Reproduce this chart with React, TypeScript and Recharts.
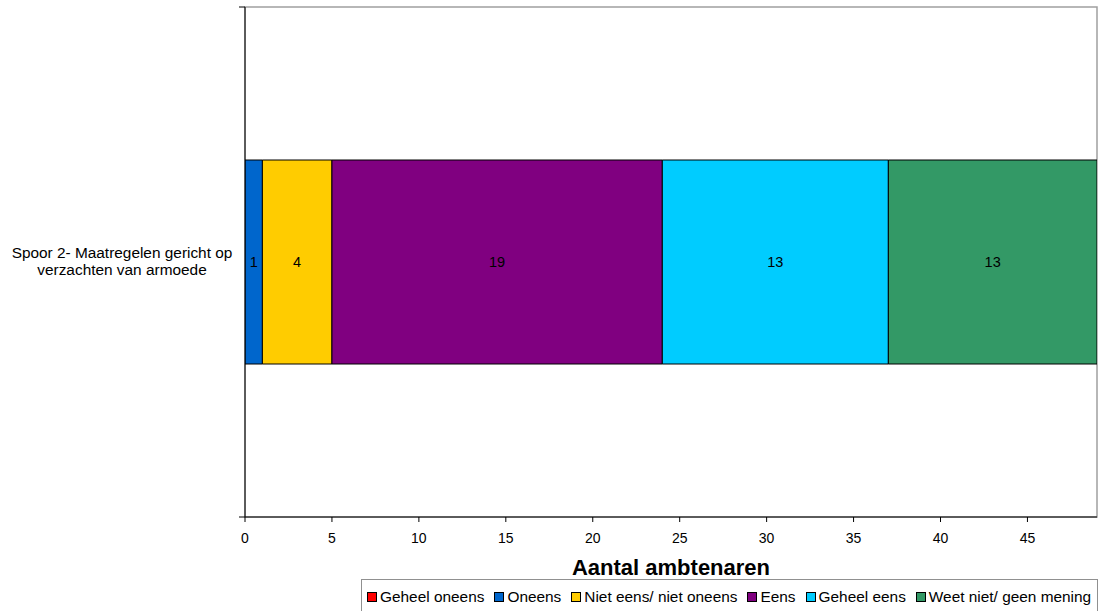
import React from "react";
import {
  Bar,
  BarChart,
  LabelList,
  Legend,
  ReferenceArea,
  XAxis,
  YAxis,
} from "recharts";

const categories = ["Spoor 2- Maatregelen gericht op verzachten van armoede"];
const categoryLines = [["Spoor 2- Maatregelen gericht op", "verzachten van armoede"]];

const seriesNames = [
  "Geheel oneens",
  "Oneens",
  "Niet eens/ niet oneens",
  "Eens",
  "Geheel eens",
  "Weet niet/ geen mening",
];
const seriesColors = ["#FF0000", "#0066CC", "#FFCC00", "#800080", "#00CCFF", "#339966"];

const geheelOneens = [0];
const oneens = [1];
const nietEensNietOneens = [4];
const eens = [19];
const geheelEens = [13];
const weetNiet = [13];

const xTicks = [0, 5, 10, 15, 20, 25, 30, 35, 40, 45];

const seriesValues = [geheelOneens, oneens, nietEensNietOneens, eens, geheelEens, weetNiet];

const data = categories.map((name, i) => {
  const row: Record<string, string | number> = { name };
  seriesNames.forEach((s, k) => {
    row[s] = seriesValues[k][i];
  });
  return row;
});

const FONT = '"Liberation Sans", Arial, sans-serif';

function CategoryTick(props: any) {
  const { y, payload, index } = props;
  const lines = categoryLines[index] ?? [String(payload.value)];
  const off = payload?.offset ?? 0;
  return (
    <g>
      {off > 0 && (
        <>
          <line x1={239} x2={245} y1={y - off} y2={y - off} stroke="#000" />
          <line x1={239} x2={245} y1={y + off} y2={y + off} stroke="#000" />
        </>
      )}
      <text
        x={122}
        y={y - 4}
        textAnchor="middle"
        fontSize={15.4}
        fontFamily={FONT}
        fill="#000"
      >
        {lines.map((l, i) => (
          <tspan key={i} x={122} dy={i === 0 ? 0 : 17}>
            {l}
          </tspan>
        ))}
      </text>
    </g>
  );
}

function BoxLegend() {
  return (
    <div
      style={{
        border: "1px solid #909090",
        boxSizing: "border-box",
        width: 737,
        height: 60,
        padding: "8px 0 0 5px",
        display: "flex",
        gap: 10,
        fontFamily: FONT,
        fontSize: 15.4,
        color: "#000",
        whiteSpace: "nowrap",
      }}
    >
      {seriesNames.map((s, i) => (
        <div key={s} style={{ display: "flex", alignItems: "center", gap: 3, height: 17 }}>
          <span
            style={{
              display: "inline-block",
              width: 8,
              height: 8,
              border: "1px solid #000",
              background: seriesColors[i],
            }}
          />
          <span>{s}</span>
        </div>
      ))}
    </div>
  );
}

export default function App() {
  return (
    <div
      style={{
        position: "absolute",
        left: 0,
        top: 0,
        width: 1101,
        height: 611,
        overflow: "hidden",
        background: "#fff",
      }}
    >
      <BarChart
        width={1101}
        height={640}
        data={data}
        layout="vertical"
        margin={{ top: 7, right: 4, bottom: 63, left: 1 }}
        barCategoryGap="30%"
      >
        <ReferenceArea x1={0} x2={49} fill="none" stroke="#a0a0a0" strokeWidth={1.5} />
        <XAxis
          type="number"
          domain={[0, 49]}
          allowDataOverflow
          ticks={xTicks}
          tickSize={5}
          tickMargin={11}
          stroke="#000"
          tick={{ fill: "#000", fontSize: 14, fontFamily: FONT }}
          height={60}
          label={{
            value: "Aantal ambtenaren",
            position: "insideBottom",
            offset: 2,
            fill: "#000",
            fontSize: 22,
            fontWeight: "bold",
            fontFamily: FONT,
          }}
        />
        <YAxis
          type="category"
          dataKey="name"
          width={244}
          stroke="#000"
          tickLine={false}
          tick={<CategoryTick />}
        />
        <Legend
          layout="vertical"
          align="center"
          verticalAlign="middle"
          content={<BoxLegend />}
          wrapperStyle={{ left: 361, top: 579, width: 737 }}
        />
        {seriesNames.map((s, i) => (
          <Bar
            key={s}
            dataKey={s}
            stackId="a"
            fill={seriesColors[i]}
            stroke="#000"
            strokeWidth={1}
            isAnimationActive={false}
          >
            <LabelList
              dataKey={s}
              position="center"
              fill="#000"
              fontSize={14.5}
              fontFamily={FONT}
              formatter={(v: any) => (v ? v : "")}
            />
          </Bar>
        ))}
      </BarChart>
    </div>
  );
}
